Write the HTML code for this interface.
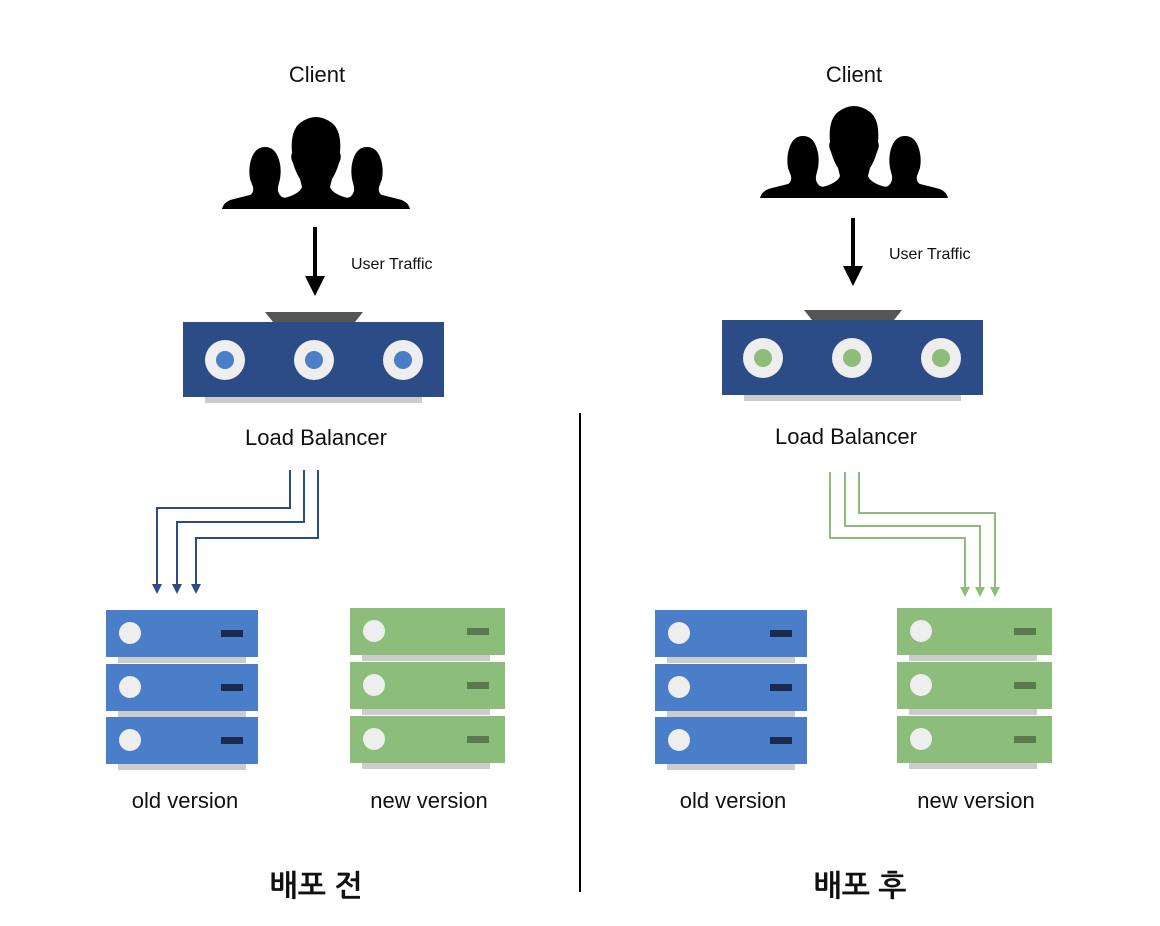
<!DOCTYPE html>
<html><head><meta charset="utf-8"><style>
html,body{margin:0;padding:0;background:#fff;}
svg{display:block;}
text{font-family:"Liberation Sans","NanumGothic","Noto Sans CJK KR",sans-serif;fill:#111;}
</style></head><body>
<svg width="1160" height="926" viewBox="0 0 1160 926" xmlns="http://www.w3.org/2000/svg">
<defs>
<g id="people">
  <path d="M28 62 Q26 50 30 40 Q34 30 43 30 Q52 30 56 40 Q60 50 58 62 L56 70 Q55 76 60 80 L78 86 L78 92 L0 92 Q2 84 12 82 L28 78 Q32 76 31 70 Z" fill="#000"/>
  <path d="M130 62 Q128 50 132 40 Q136 30 145 30 Q154 30 158 40 Q162 50 160 62 L157 70 Q156 76 160 78 L176 82 Q186 84 188 92 L110 92 L110 86 L128 80 Q133 76 132 70 Z" fill="#000"/>
  <path d="M70 36 Q68 14 78 6 Q86 0 94 0 Q102 0 110 6 Q120 14 118 36 Q120 40 117 46 Q114 56 110 62 L108 70 Q110 76 122 80 Q140 84 148 92 L40 92 Q48 84 66 80 Q78 76 80 70 L78 62 Q74 56 71 46 Q68 40 70 36 Z" fill="#000"/>
</g>
<g id="lb">
  <path d="M82 -10 L180 -10 L172 0 L90 0 Z" fill="#555"/>
  <rect x="22" y="75" width="217" height="6" fill="#ccc"/>
  <rect x="0" y="0" width="261" height="75" fill="#2b4c86"/>
</g>
<g id="ubl">
  <rect x="12" y="46" width="128" height="7" fill="#ccc"/>
  <rect x="0" y="0" width="152" height="47" fill="#4a7ec8"/>
  <circle cx="24" cy="23" r="11" fill="#eee"/>
  <rect x="115" y="20" width="22" height="7" fill="#1a2b4f"/>
</g>
<g id="ugr">
  <rect x="12" y="46" width="128" height="7" fill="#ccc"/>
  <rect x="0" y="0" width="155" height="47" fill="#8dbd7a"/>
  <circle cx="24" cy="23" r="11" fill="#eee"/>
  <rect x="117" y="20" width="22" height="7" fill="#5b7a50"/>
</g>
</defs>

<!-- LEFT -->
<text x="317" y="82" font-size="22" text-anchor="middle">Client</text>
<use href="#people" x="222" y="117"/>
<line x1="315" y1="227" x2="315" y2="278" stroke="#000" stroke-width="4"/>
<path d="M305 276 L325 276 L315 296 Z" fill="#000"/>
<text x="351" y="269" font-size="16">User Traffic</text>
<use href="#lb" x="183" y="322"/>
<g fill="#eee"><circle cx="225" cy="360" r="20"/><circle cx="314" cy="360" r="20"/><circle cx="403" cy="360" r="20"/></g>
<g fill="#4a7ec8"><circle cx="225" cy="360" r="9"/><circle cx="314" cy="360" r="9"/><circle cx="403" cy="360" r="9"/></g>
<text x="316" y="445" font-size="22" text-anchor="middle">Load Balancer</text>
<g fill="none" stroke="#2b4c86" stroke-width="2">
  <polyline points="290,470 290,508 157,508 157,585"/>
  <polyline points="304,470 304,522 177,522 177,585"/>
  <polyline points="318,470 318,538 196,538 196,585"/>
</g>
<g fill="#2b4c86">
  <path d="M152 584 L162 584 L157 594 Z"/><path d="M172 584 L182 584 L177 594 Z"/><path d="M191 584 L201 584 L196 594 Z"/>
</g>
<use href="#ubl" x="106" y="610"/><use href="#ubl" x="106" y="664"/><use href="#ubl" x="106" y="717"/>
<use href="#ugr" x="350" y="608"/><use href="#ugr" x="350" y="662"/><use href="#ugr" x="350" y="716"/>
<text x="185" y="808" font-size="22" text-anchor="middle">old version</text>
<text x="429" y="808" font-size="22" text-anchor="middle">new version</text>
<text x="316" y="896" font-size="30" font-weight="bold" text-anchor="middle">배포 전</text>

<line x1="580" y1="413" x2="580" y2="892" stroke="#000" stroke-width="2"/>

<!-- RIGHT -->
<text x="854" y="82" font-size="22" text-anchor="middle">Client</text>
<use href="#people" x="760" y="106"/>
<line x1="853" y1="218" x2="853" y2="268" stroke="#000" stroke-width="4"/>
<path d="M843 266 L863 266 L853 286 Z" fill="#000"/>
<text x="889" y="259" font-size="16">User Traffic</text>
<use href="#lb" x="722" y="320"/>
<g fill="#eee"><circle cx="763" cy="358" r="20"/><circle cx="852" cy="358" r="20"/><circle cx="941" cy="358" r="20"/></g>
<g fill="#8dbd7a"><circle cx="763" cy="358" r="9"/><circle cx="852" cy="358" r="9"/><circle cx="941" cy="358" r="9"/></g>
<text x="846" y="444" font-size="22" text-anchor="middle">Load Balancer</text>
<g fill="none" stroke="#8dbd7a" stroke-width="2">
  <polyline points="830,472 830,538 965,538 965,588"/>
  <polyline points="845,472 845,526 980,526 980,588"/>
  <polyline points="859,472 859,513 995,513 995,588"/>
</g>
<g fill="#8dbd7a">
  <path d="M960 587 L970 587 L965 597 Z"/><path d="M975 587 L985 587 L980 597 Z"/><path d="M990 587 L1000 587 L995 597 Z"/>
</g>
<use href="#ubl" x="655" y="610"/><use href="#ubl" x="655" y="664"/><use href="#ubl" x="655" y="717"/>
<use href="#ugr" x="897" y="608"/><use href="#ugr" x="897" y="662"/><use href="#ugr" x="897" y="716"/>
<text x="733" y="808" font-size="22" text-anchor="middle">old version</text>
<text x="976" y="808" font-size="22" text-anchor="middle">new version</text>
<text x="860" y="896" font-size="30" font-weight="bold" text-anchor="middle">배포 후</text>
</svg>
</body></html>
